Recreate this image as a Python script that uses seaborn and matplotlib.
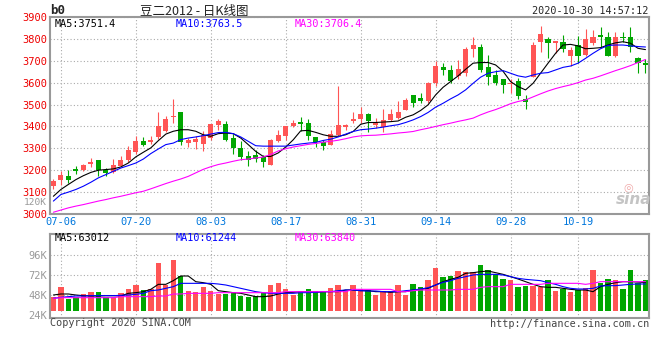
import matplotlib
matplotlib.use("Agg")
import matplotlib.pyplot as plt
import seaborn as sns

# b0 (豆二2012) daily candles, 07-03 .. 10-30
OPEN = [3130, 3154, 3175, 3205, 3200, 3227, 3245, 3203, 3190, 3221,
        3248, 3282, 3332, 3327, 3352, 3377, 3441, 3467, 3324, 3327,
        3322, 3347, 3408, 3412, 3347, 3301, 3266, 3271, 3259, 3226,
        3335, 3358, 3403, 3421, 3418, 3352, 3327, 3317, 3362, 3396,
        3426, 3433, 3456, 3406, 3397, 3430, 3438, 3476, 3544, 3531,
        3514, 3597, 3670, 3658, 3631, 3643, 3752, 3761, 3670, 3635,
        3616, 3594, 3608, 3524, 3628, 3787, 3798, 3783, 3784, 3723,
        3771, 3727, 3780, 3818, 3807, 3723, 3810, 3810, 3711, 3688]
HIGH = [3160, 3195, 3200, 3221, 3228, 3257, 3248, 3210, 3253, 3263,
        3309, 3358, 3352, 3358, 3464, 3446, 3526, 3467, 3347, 3355,
        3378, 3412, 3435, 3423, 3367, 3332, 3286, 3291, 3271, 3342,
        3385, 3403, 3428, 3441, 3434, 3352, 3336, 3382, 3585, 3412,
        3464, 3488, 3461, 3438, 3479, 3479, 3514, 3529, 3544, 3555,
        3605, 3701, 3688, 3681, 3704, 3764, 3810, 3777, 3727, 3658,
        3616, 3616, 3620, 3544, 3786, 3859, 3807, 3792, 3818, 3764,
        3813, 3843, 3840, 3856, 3833, 3833, 3833, 3856, 3716, 3707]
LOW = [3115, 3134, 3142, 3185, 3198, 3215, 3172, 3172, 3188, 3218,
       3236, 3276, 3309, 3321, 3343, 3373, 3418, 3317, 3306, 3298,
       3286, 3339, 3385, 3332, 3276, 3245, 3218, 3236, 3215, 3226,
       3327, 3339, 3396, 3377, 3339, 3306, 3294, 3317, 3358, 3382,
       3415, 3418, 3373, 3392, 3373, 3423, 3433, 3473, 3488, 3509,
       3506, 3585, 3635, 3597, 3616, 3631, 3719, 3650, 3590, 3590,
       3555, 3555, 3524, 3479, 3628, 3742, 3711, 3737, 3742, 3676,
       3688, 3722, 3772, 3761, 3723, 3719, 3787, 3742, 3643, 3643]
CLOSE = [3149, 3180, 3157, 3197, 3225, 3236, 3200, 3188, 3225, 3245,
         3294, 3332, 3317, 3336, 3400, 3434, 3450, 3327, 3336, 3344,
         3360, 3412, 3423, 3336, 3301, 3260, 3245, 3253, 3236, 3339,
         3362, 3403, 3418, 3409, 3358, 3327, 3312, 3367, 3408, 3405,
         3435, 3456, 3423, 3415, 3430, 3458, 3468, 3521, 3509, 3517,
         3600, 3676, 3658, 3608, 3661, 3754, 3772, 3658, 3625, 3597,
         3590, 3600, 3540, 3512, 3772, 3822, 3780, 3789, 3752, 3749,
         3722, 3798, 3810, 3807, 3723, 3810, 3805, 3764, 3692, 3679]

MA5 = [3081, 3112, 3135, 3157, 3175, 3190, 3200, 3203, 3206, 3215,
       3233, 3261, 3282, 3302, 3335, 3365, 3378, 3385, 3385, 3378,
       3362, 3355, 3367, 3370, 3367, 3347, 3317, 3286, 3263, 3263,
       3279, 3306, 3339, 3380, 3382, 3373, 3362, 3355, 3355, 3362,
       3377, 3410, 3418, 3418, 3420, 3422, 3425, 3442, 3453, 3473,
       3499, 3544, 3579, 3605, 3631, 3661, 3689, 3692, 3692, 3681,
       3652, 3605, 3582, 3567, 3597, 3643, 3689, 3734, 3772, 3775,
       3768, 3755, 3757, 3760, 3772, 3782, 3787, 3780, 3757, 3751]
MA10 = [3059, 3089, 3100, 3112, 3127, 3145, 3165, 3180, 3195, 3210,
        3221, 3233, 3251, 3276, 3297, 3317, 3324, 3340, 3347, 3352,
        3358, 3365, 3372, 3373, 3367, 3352, 3332, 3312, 3310, 3310,
        3310, 3310, 3315, 3320, 3324, 3327, 3336, 3342, 3352, 3365,
        3377, 3385, 3388, 3392, 3397, 3403, 3408, 3418, 3430, 3445,
        3464, 3488, 3506, 3526, 3544, 3567, 3597, 3625, 3643, 3650,
        3655, 3643, 3631, 3625, 3635, 3643, 3646, 3658, 3670, 3676,
        3689, 3711, 3734, 3755, 3770, 3772, 3772, 3768, 3765, 3763]
MA30 = [3008, 3018, 3028, 3036, 3043, 3051, 3059, 3066, 3074, 3081,
        3089, 3097, 3104, 3115, 3127, 3139, 3150, 3160, 3172, 3188,
        3204, 3216, 3226, 3233, 3241, 3248, 3251, 3256, 3260, 3272,
        3288, 3298, 3306, 3312, 3318, 3322, 3328, 3332, 3337, 3344,
        3352, 3357, 3359, 3360, 3363, 3366, 3370, 3373, 3377, 3385,
        3392, 3400, 3408, 3415, 3423, 3430, 3438, 3453, 3466, 3477,
        3490, 3504, 3514, 3521, 3535, 3549, 3562, 3573, 3582, 3590,
        3600, 3612, 3620, 3631, 3643, 3655, 3666, 3678, 3692, 3706]

# volume, thousands of lots
VOLUME_K = [46.0, 57.2, 43.2, 45.2, 49.2, 51.6, 51.6, 45.2, 45.2, 50.0,
            55.2, 60.0, 54.0, 54.8, 86.8, 60.0, 90.0, 70.8, 52.8, 51.2,
            57.2, 52.8, 49.2, 49.2, 51.2, 46.8, 45.2, 46.8, 50.0, 60.0,
            62.0, 54.8, 48.0, 52.8, 54.8, 52.8, 52.0, 56.8, 60.0, 53.0,
            60.0, 54.8, 54.0, 48.0, 53.2, 52.8, 60.0, 48.0, 61.2, 57.2,
            66.0, 80.4, 70.0, 70.8, 76.8, 75.6, 75.2, 84.0, 78.0, 72.8,
            67.2, 66.0, 57.6, 58.8, 58.8, 57.6, 66.0, 53.2, 55.2, 52.0,
            54.0, 56.0, 78.0, 62.0, 67.2, 66.0, 55.2, 78.0, 62.0, 66.0]
VOL_MA5 = [48.0, 49.2, 49.2, 48.0, 47.2, 46.8, 46.8, 47.2, 47.2, 46.8,
           50.0, 50.8, 52.0, 54.8, 60.8, 60.8, 65.2, 70.8, 70.8, 64.0,
           62.8, 60.8, 53.2, 52.0, 50.8, 50.0, 48.0, 46.0, 46.0, 46.8,
           49.2, 50.8, 51.2, 52.0, 52.0, 51.2, 52.0, 52.0, 52.0, 54.0,
           54.0, 53.2, 53.2, 52.0, 52.0, 51.2, 52.0, 52.0, 54.0, 54.8,
           56.0, 60.0, 64.0, 66.8, 69.2, 74.0, 74.8, 76.0, 76.8, 74.8,
           72.8, 70.0, 67.2, 64.0, 60.8, 58.0, 57.2, 57.2, 56.0, 54.8,
           54.0, 54.0, 52.0, 58.0, 60.8, 62.8, 64.0, 64.0, 63.5, 63.0]
VOL_MA10 = [44.0, 45.2, 46.0, 46.8, 46.8, 47.2, 47.2, 47.2, 47.2, 47.6,
            48.0, 48.8, 50.0, 53.2, 54.0, 56.0, 58.0, 62.0, 62.0, 62.0,
            62.0, 62.0, 61.2, 60.0, 58.0, 56.0, 54.0, 52.0, 50.8, 50.0,
            50.0, 50.0, 50.0, 50.8, 50.8, 51.2, 52.0, 52.0, 53.2, 54.0,
            54.0, 53.2, 52.8, 52.8, 52.0, 52.0, 52.0, 53.2, 54.0, 55.2,
            56.8, 60.0, 63.2, 65.2, 68.0, 70.0, 72.0, 72.8, 72.8, 72.8,
            72.0, 70.0, 68.0, 66.8, 66.0, 65.2, 62.8, 60.8, 58.0, 56.0,
            55.2, 55.2, 56.0, 58.8, 59.2, 59.2, 60.0, 60.8, 61.2, 61.2]
VOL_MA30 = [44.0, 44.8, 44.8, 44.8, 44.8, 44.8, 44.8, 44.8, 44.8, 46.0,
            46.0, 46.0, 46.0, 46.0, 46.8, 46.8, 49.2, 49.2, 50.0, 50.0,
            50.0, 50.0, 50.8, 50.8, 50.8, 50.8, 50.8, 50.8, 50.8, 50.8,
            50.8, 52.0, 52.0, 52.0, 52.0, 52.0, 52.0, 52.0, 52.0, 52.0,
            54.8, 54.8, 54.8, 54.8, 54.8, 54.8, 52.0, 52.0, 53.2, 54.0,
            54.0, 54.0, 54.0, 54.0, 54.8, 54.8, 54.8, 57.2, 58.0, 58.0,
            58.0, 60.8, 60.8, 60.8, 60.8, 60.8, 62.0, 62.0, 62.0, 62.0,
            62.0, 60.8, 62.0, 64.0, 64.0, 64.0, 64.0, 64.0, 64.0, 64.0]

TICK_POS = [1, 11, 21, 31, 41, 51, 61, 70]
TICK_LABELS = ["07-06", "07-20", "08-03", "08-17", "08-31", "09-14", "09-28", "10-19"]
PRICE_TICKS = [3000, 3100, 3200, 3300, 3400, 3500, 3600, 3700, 3800, 3900]
VOL_TICKS = [24, 48, 72, 96]

UP, DOWN = "#ff5555", "#00a600"
GRID = "#aaaaaa"
FRAME = "#999999"

sns.set_style("white")
plt.rcParams["font.family"] = ["DejaVu Sans Mono", "Noto Sans CJK SC"]

W, H = 660, 360
fig = plt.figure(figsize=(W / 100, H / 100), dpi=100)
ax = fig.add_axes([50 / W, 1 - 214 / H, 599 / W, 197 / H])
axv = fig.add_axes([50 / W, 1 - 318 / H, 599 / W, 84 / H])


def fig_xy(px, py):
    return px / W, 1 - py / H


x = list(range(len(CLOSE)))
colors = [UP if c >= o else DOWN for o, c in zip(OPEN, CLOSE)]

# candles: wicks + bodies
ax.vlines(x, LOW, HIGH, colors=colors, linewidth=0.8)
body_lo = [min(o, c) for o, c in zip(OPEN, CLOSE)]
body_h = [max(abs(c - o), 3) for o, c in zip(OPEN, CLOSE)]
ax.bar(x, body_h, bottom=body_lo, width=0.68, color=colors, linewidth=0)

sns.lineplot(x=x, y=MA5, color="black", linewidth=0.8, ax=ax)
sns.lineplot(x=x, y=MA10, color="#0000ff", linewidth=0.8, ax=ax)
sns.lineplot(x=x, y=MA30, color="#ff00ff", linewidth=0.8, ax=ax)

# volume bars sit on the panel floor, a little above the frame
vol_floor = 28.8
axv.bar(x, [v - vol_floor for v in VOLUME_K], bottom=vol_floor,
        width=0.72, color=colors, linewidth=0)
sns.lineplot(x=x, y=VOL_MA5, color="black", linewidth=0.8, ax=axv)
sns.lineplot(x=x, y=VOL_MA10, color="#0000ff", linewidth=0.8, ax=axv)
sns.lineplot(x=x, y=VOL_MA30, color="#ff00ff", linewidth=0.8, ax=axv)

for a in (ax, axv):
    a.set_xlim(-0.45, 79.47)
    a.set_xticks(TICK_POS)
    a.tick_params(length=0, pad=2)
    a.grid(True, color=GRID, linestyle=(0, (1, 2)), linewidth=0.8)
    a.set_axisbelow(True)
    a.set_xlabel("")
    a.set_ylabel("")
    for s in a.spines.values():
        s.set_visible(True)
        s.set_color(FRAME)
        s.set_linewidth(1.5)

ax.set_ylim(3000, 3900)
ax.set_yticks(PRICE_TICKS)
ax.set_yticklabels([str(t) for t in PRICE_TICKS], color="#ee0000", fontsize=7.5)
ax.set_xticklabels(TICK_LABELS, color="#0077dd", fontsize=7.5)

axv.set_ylim(20.4, 121.2)
axv.set_yticks(VOL_TICKS)
axv.set_yticklabels([f"{t}K" for t in VOL_TICKS], color="#999999", fontsize=7.5)
axv.set_xticklabels([])
axv.yaxis.get_gridlines()[0].set_visible(False)

# MA legends
ax.text(0.008, 0.964, "MA5:3751.4", color="black", fontsize=7.3,
        va="center", transform=ax.transAxes)
ax.text(0.209, 0.964, "MA10:3763.5", color="#0000ff", fontsize=7.3,
        va="center", transform=ax.transAxes)
ax.text(0.409, 0.964, "MA30:3706.4", color="#ff00ff", fontsize=7.3,
        va="center", transform=ax.transAxes)
axv.text(0.008, 0.949, "MA5:63012", color="black", fontsize=7.3,
         va="center", transform=axv.transAxes)
axv.text(0.209, 0.949, "MA10:61244", color="#0000ff", fontsize=7.3,
         va="center", transform=axv.transAxes)
axv.text(0.409, 0.949, "MA30:63840", color="#ff00ff", fontsize=7.3,
         va="center", transform=axv.transAxes)

# header and footer
fig.text(*fig_xy(50, 11), "b0", fontsize=9, fontweight="bold", va="center")
fig.text(*fig_xy(140, 11), "豆二2012 - 日K线图", fontsize=9, color="#222222",
         va="center", family=["Noto Sans CJK SC", "DejaVu Sans"])
fig.text(*fig_xy(648, 11), "2020-10-30 14:57:12", fontsize=7.3,
         ha="right", va="center")
fig.text(*fig_xy(47, 202.5), "120K", fontsize=6.8, color="#999999",
         ha="right", va="center")
fig.text(*fig_xy(628, 187), "◎", fontsize=8, color="#f0a8a8",
         ha="center", va="center", family=["DejaVu Sans"])
fig.text(*fig_xy(634, 199), "sina", fontsize=11, color="#c4c4c4",
         fontstyle="italic", fontweight="bold", ha="center", va="center",
         family=["DejaVu Sans"])
fig.text(*fig_xy(50, 323), "Copyright 2020 SINA.COM", fontsize=7.3,
         color="#444444", va="center")
fig.text(*fig_xy(649, 324), "http://finance.sina.com.cn", fontsize=7.3,
         color="#444444", ha="right", va="center")

fig.savefig("out.png", dpi=100, facecolor="white")
